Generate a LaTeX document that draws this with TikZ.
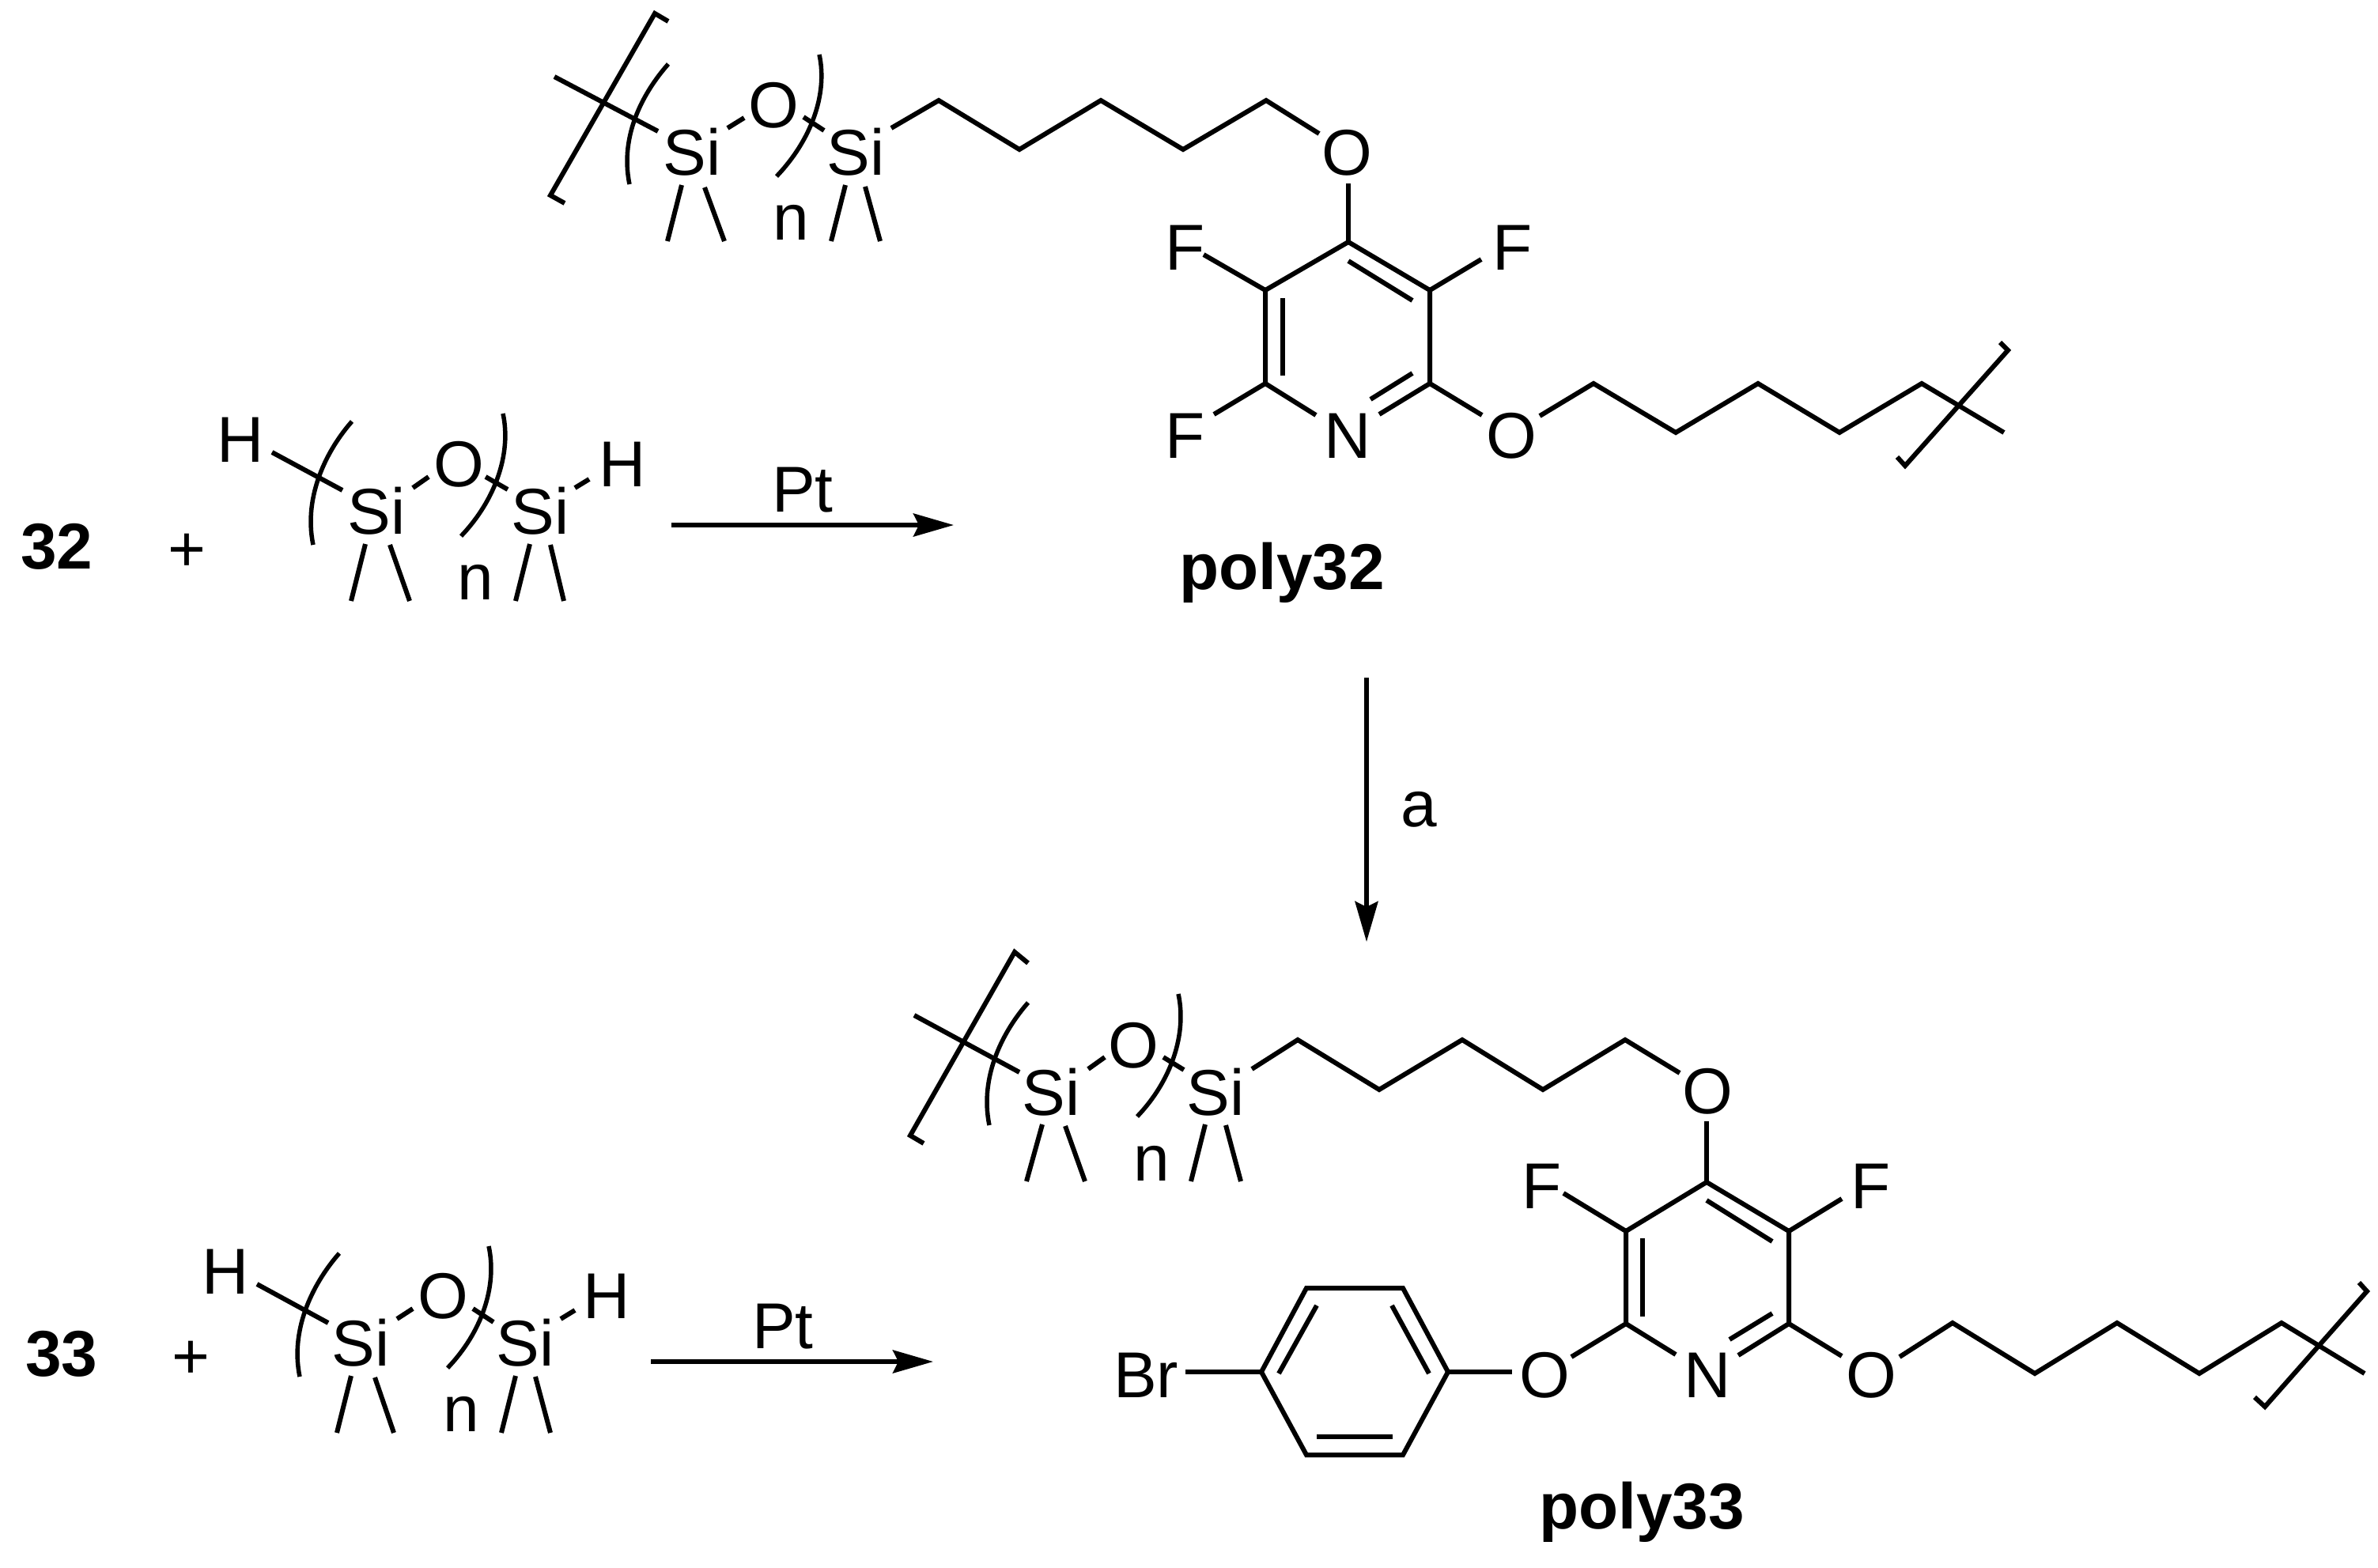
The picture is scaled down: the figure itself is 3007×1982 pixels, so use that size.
\documentclass[tikz,border=0pt]{standalone}
\usepackage{fontspec}
\setmainfont{Liberation Sans}
\usetikzlibrary{arrows.meta}
\tikzset{
  atom/.style={inner sep=0pt,anchor=base,font=\fontsize{82}{82}\selectfont},
  lab/.style={atom,font=\fontsize{82}{82}\selectfont\bfseries},
  bond/.style={line width=6pt,line join=miter,miter limit=10,draw=black},
  paren/.style={line width=5.5pt,draw=black},
  rxn/.style={line width=5.5pt,draw=black,-{Stealth[length=51pt,width=29pt,inset=7pt]}},
}
\newcommand\parenL[2]{\draw[paren] (#1) .. controls +(-30,34) and +(-13,-63) .. (#2);}
\newcommand\parenR[2]{\draw[paren] (#1) .. controls +(11,51) and +(43,-45) .. (#2);}
\begin{document}
\begin{tikzpicture}[x=1pt,y=-1pt]
\path[fill=white,use as bounding box] (0,0) rectangle (3007,1982);

% ===== poly32 =====
\node[atom] (aSi1) at (875,221) {Si};
\node[atom] (aO1) at (978,161) {O};
\node[atom] (aSi2) at (1082,221) {Si};
\node[atom] (an) at (1000,303) {n};
\node[atom] (aO2) at (1703,221) {O};
\node[atom] (aF1) at (1499,341) {F};
\node[atom] (aF2) at (1913,341) {F};
\node[atom] (aF3) at (1499,579) {F};
\node[atom] (aN) at (1704,579) {N};
\node[atom] (aO3) at (1911,579) {O};
\node[lab] (alab) at (1621,745) {poly32};
\coordinate (aBt1) at (845,27); \coordinate (aBt2) at (828,17); \coordinate (aBt3) at (696,247); \coordinate (aBt4) at (714,257);
\draw[bond] (aBt1) -- (aBt2) -- (aBt3) -- (aBt4);
\coordinate (aE0) at (701,97); \coordinate (aE1) at (832,166);
\draw[bond] (aE0) -- (aE1);
\parenL{845,81}{796,233}
\parenR{1036,69}{982,223}
\coordinate (aE2) at (920,162); \coordinate (aE3) at (941,149); \draw[bond] (aE2) -- (aE3);
\coordinate (aE4) at (1016,148); \coordinate (aE5) at (1042,165); \draw[bond] (aE4) -- (aE5);
\coordinate (aM1a) at (862,234); \coordinate (aM1b) at (844,305); \draw[bond] (aM1a) -- (aM1b);
\coordinate (aM2a) at (891,237); \coordinate (aM2b) at (916,305); \draw[bond] (aM2a) -- (aM2b);
\coordinate (aM3a) at (1069,234); \coordinate (aM3b) at (1051,305); \draw[bond] (aM3a) -- (aM3b);
\coordinate (aM4a) at (1094,236); \coordinate (aM4b) at (1113,305); \draw[bond] (aM4a) -- (aM4b);
\coordinate (aC0) at (1127,162); \coordinate (aC1) at (1187,127); \coordinate (aC2) at (1289,189); \coordinate (aC3) at (1392,127); \coordinate (aC4) at (1496,189); \coordinate (aC5) at (1601,127); \coordinate (aC6) at (1668,169);
\draw[bond] (aC0) -- (aC1) -- (aC2) -- (aC3) -- (aC4) -- (aC5) -- (aC6);
\coordinate (aR4) at (1705,306); \coordinate (aR3) at (1808,367); \coordinate (aR2) at (1808,485); \coordinate (aR6) at (1600,485); \coordinate (aR5) at (1600,367);
\coordinate (aOb) at (1705,232); \draw[bond] (aOb) -- (aR4);
\coordinate (aNr) at (1744,524); \coordinate (aNl) at (1664,525);
\draw[bond] (aNr) -- (aR2) -- (aR3) -- (aR4) -- (aR5) -- (aR6) -- (aNl);
\coordinate (aD1a) at (1622,377); \coordinate (aD1b) at (1622,475); \draw[bond] (aD1a) -- (aD1b);
\coordinate (aD2a) at (1705,330); \coordinate (aD2b) at (1786,380); \draw[bond] (aD2a) -- (aD2b);
\coordinate (aD3a) at (1786,472); \coordinate (aD3b) at (1733,505); \draw[bond] (aD3a) -- (aD3b);
\coordinate (aF1e) at (1522,322); \draw[bond] (aF1e) -- (aR5);
\coordinate (aF2e) at (1873,328); \draw[bond] (aF2e) -- (aR3);
\coordinate (aF3e) at (1535,524); \draw[bond] (aF3e) -- (aR6);
\coordinate (aO3e) at (1874,525); \draw[bond] (aO3e) -- (aR2);
\coordinate (aK0) at (1947,526); \coordinate (aK1) at (2015,485); \coordinate (aK2) at (2119,547); \coordinate (aK3) at (2223,485); \coordinate (aK4) at (2326,547); \coordinate (aK5) at (2430,485); \coordinate (aK6) at (2534,547);
\draw[bond] (aK0) -- (aK1) -- (aK2) -- (aK3) -- (aK4) -- (aK5) -- (aK6);
\coordinate (aBe1) at (2529,433); \coordinate (aBe2) at (2539,443); \coordinate (aBe3) at (2409,589); \coordinate (aBe4) at (2399,578);
\draw[bond] (aBe1) -- (aBe2) -- (aBe3) -- (aBe4);

% ===== reaction 1 =====
\node[lab] (b32) at (72,719) {32};
\node[atom] (bplus) at (236,722) {+};
\node[atom] (bH1) at (304,584) {H};
\node[atom] (bSi1) at (476,675) {Si};
\node[atom] (bO) at (580,615) {O};
\node[atom] (bSi2) at (683,675) {Si};
\node[atom] (bH2) at (787,615) {H};
\node[atom] (bn) at (601,758) {n};
\node[atom] (bPt) at (1015,647) {Pt};
\coordinate (bE0) at (344,572); \coordinate (bE1) at (433,620); \draw[bond] (bE0) -- (bE1);
\coordinate (bE2) at (522,617); \coordinate (bE3) at (542,603); \draw[bond] (bE2) -- (bE3);
\coordinate (bE4) at (614,603); \coordinate (bE5) at (642,619); \draw[bond] (bE4) -- (bE5);
\coordinate (bE6) at (727,617); \coordinate (bE7) at (745,606); \draw[bond] (bE6) -- (bE7);
\parenL{445,533}{396,689}
\parenR{636,523}{583,678}
\coordinate (bM1a) at (462,688); \coordinate (bM1b) at (444,760); \draw[bond] (bM1a) -- (bM1b);
\coordinate (bM2a) at (493,689); \coordinate (bM2b) at (518,760); \draw[bond] (bM2a) -- (bM2b);
\coordinate (bM3a) at (670,688); \coordinate (bM3b) at (652,760); \draw[bond] (bM3a) -- (bM3b);
\coordinate (bM4a) at (696,689); \coordinate (bM4b) at (713,760); \draw[bond] (bM4a) -- (bM4b);
\coordinate (bA0) at (849,664); \coordinate (bA1) at (1206,664); \draw[rxn] (bA0) -- (bA1);

% ===== vertical arrow =====
\coordinate (vA0) at (1728,857); \coordinate (vA1) at (1728,1191); \draw[rxn] (vA0) -- (vA1);
\node[atom] (va) at (1794,1045) {a};

% ===== poly33 =====
\node[atom] (cSi1) at (1329,1410) {Si};
\node[atom] (cO1) at (1433,1350) {O};
\node[atom] (cSi2) at (1537,1410) {Si};
\node[atom] (cn) at (1456,1493) {n};
\node[atom] (cO2) at (2159,1408) {O};
\node[atom] (cF1) at (1950,1528) {F};
\node[atom] (cF2) at (2366,1528) {F};
\node[atom] (cN) at (2159,1767) {N};
\node[atom] (cO3) at (1953,1767) {O};
\node[atom] (cO4) at (2366,1767) {O};
\node[atom] (cBr) at (1449,1767) {Br};
\node[lab] (clab) at (2076,1933) {poly33};
\coordinate (cBt1) at (1300,1218); \coordinate (cBt2) at (1283,1204); \coordinate (cBt3) at (1151,1436); \coordinate (cBt4) at (1168,1446);
\draw[bond] (cBt1) -- (cBt2) -- (cBt3) -- (cBt4);
\coordinate (cE0) at (1156,1284); \coordinate (cE1) at (1289,1356); \draw[bond] (cE0) -- (cE1);
\parenL{1300,1268}{1251,1423}
\parenR{1490,1257}{1438,1412}
\coordinate (cE2) at (1376,1352); \coordinate (cE3) at (1397,1337); \draw[bond] (cE2) -- (cE3);
\coordinate (cE4) at (1471,1337); \coordinate (cE5) at (1497,1353); \draw[bond] (cE4) -- (cE5);
\coordinate (cM1a) at (1318,1422); \coordinate (cM1b) at (1298,1494); \draw[bond] (cM1a) -- (cM1b);
\coordinate (cM2a) at (1347,1424); \coordinate (cM2b) at (1372,1494); \draw[bond] (cM2a) -- (cM2b);
\coordinate (cM3a) at (1524,1422); \coordinate (cM3b) at (1506,1494); \draw[bond] (cM3a) -- (cM3b);
\coordinate (cM4a) at (1550,1423); \coordinate (cM4b) at (1569,1494); \draw[bond] (cM4a) -- (cM4b);
\coordinate (cC0) at (1583,1352); \coordinate (cC1) at (1641,1315); \coordinate (cC2) at (1744,1378); \coordinate (cC3) at (1849,1315); \coordinate (cC4) at (1951,1378); \coordinate (cC5) at (2055,1315); \coordinate (cC6) at (2124,1357);
\draw[bond] (cC0) -- (cC1) -- (cC2) -- (cC3) -- (cC4) -- (cC5) -- (cC6);
\coordinate (cR4) at (2158,1495); \coordinate (cR3) at (2262,1557); \coordinate (cR2) at (2262,1674); \coordinate (cR6) at (2056,1674); \coordinate (cR5) at (2056,1557);
\coordinate (cOb) at (2158,1418); \draw[bond] (cOb) -- (cR4);
\coordinate (cNr) at (2198,1714); \coordinate (cNl) at (2119,1713);
\draw[bond] (cNr) -- (cR2) -- (cR3) -- (cR4) -- (cR5) -- (cR6) -- (cNl);
\coordinate (cD1a) at (2077,1566); \coordinate (cD1b) at (2077,1665); \draw[bond] (cD1a) -- (cD1b);
\coordinate (cD2a) at (2158,1518); \coordinate (cD2b) at (2241,1570); \draw[bond] (cD2a) -- (cD2b);
\coordinate (cD3a) at (2241,1661); \coordinate (cD3b) at (2187,1694); \draw[bond] (cD3a) -- (cD3b);
\coordinate (cF1e) at (1977,1509); \draw[bond] (cF1e) -- (cR5);
\coordinate (cF2e) at (2329,1516); \draw[bond] (cF2e) -- (cR3);
\coordinate (cO3e) at (1987,1716); \draw[bond] (cO3e) -- (cR6);
\coordinate (cO4e) at (2329,1715); \draw[bond] (cO4e) -- (cR2);
\coordinate (cK0) at (2402,1716); \coordinate (cK1) at (2469,1673); \coordinate (cK2) at (2573,1737); \coordinate (cK3) at (2677,1673); \coordinate (cK4) at (2781,1737); \coordinate (cK5) at (2885,1673); \coordinate (cK6) at (2990,1737);
\draw[bond] (cK0) -- (cK1) -- (cK2) -- (cK3) -- (cK4) -- (cK5) -- (cK6);
\coordinate (cBe1) at (2983,1622); \coordinate (cBe2) at (2993,1633); \coordinate (cBe3) at (2864,1779); \coordinate (cBe4) at (2851,1767);
\draw[bond] (cBe1) -- (cBe2) -- (cBe3) -- (cBe4);
% bromophenyl
\coordinate (cP1) at (1595,1735); \coordinate (cP2) at (1652,1629); \coordinate (cP3) at (1774,1629); \coordinate (cP4) at (1831,1735); \coordinate (cP5) at (1774,1840); \coordinate (cP6) at (1652,1840);
\draw[bond] (cP1) -- (cP2) -- (cP3) -- (cP4) -- (cP5) -- (cP6) -- cycle;
\coordinate (cPi1a) at (1665,1651); \coordinate (cPi1b) at (1617,1737); \draw[bond] (cPi1a) -- (cPi1b);
\coordinate (cPi2a) at (1760,1651); \coordinate (cPi2b) at (1807,1737); \draw[bond] (cPi2a) -- (cPi2b);
\coordinate (cPi3a) at (1665,1817); \coordinate (cPi3b) at (1761,1817); \draw[bond] (cPi3a) -- (cPi3b);
\coordinate (cBre) at (1499,1735); \draw[bond] (cBre) -- (cP1);
\coordinate (cOPe) at (1912,1735); \draw[bond] (cP4) -- (cOPe);

% ===== reaction 2 =====
\node[lab] (d33) at (78,1740) {33};
\node[atom] (dplus) at (241,1743) {+};
\node[atom] (dH1) at (285,1636) {H};
\node[atom] (dSi1) at (456,1727) {Si};
\node[atom] (dO) at (560,1667) {O};
\node[atom] (dSi2) at (664,1727) {Si};
\node[atom] (dH2) at (767,1667) {H};
\node[atom] (dn) at (583,1810) {n};
\node[atom] (dPt) at (990,1705) {Pt};
\coordinate (dE0) at (325,1624); \coordinate (dE1) at (415,1673); \draw[bond] (dE0) -- (dE1);
\coordinate (dE2) at (502,1668); \coordinate (dE3) at (522,1655); \draw[bond] (dE2) -- (dE3);
\coordinate (dE4) at (598,1655); \coordinate (dE5) at (624,1672); \draw[bond] (dE4) -- (dE5);
\coordinate (dE6) at (709,1668); \coordinate (dE7) at (727,1657); \draw[bond] (dE6) -- (dE7);
\parenL{429,1585}{379,1741}
\parenR{618,1576}{566,1730}
\coordinate (dM1a) at (444,1740); \coordinate (dM1b) at (426,1812); \draw[bond] (dM1a) -- (dM1b);
\coordinate (dM2a) at (474,1742); \coordinate (dM2b) at (498,1812); \draw[bond] (dM2a) -- (dM2b);
\coordinate (dM3a) at (652,1740); \coordinate (dM3b) at (634,1812); \draw[bond] (dM3a) -- (dM3b);
\coordinate (dM4a) at (677,1741); \coordinate (dM4b) at (696,1812); \draw[bond] (dM4a) -- (dM4b);
\coordinate (dA0) at (823,1722); \coordinate (dA1) at (1180,1722); \draw[rxn] (dA0) -- (dA1);
\end{tikzpicture}
\end{document}
